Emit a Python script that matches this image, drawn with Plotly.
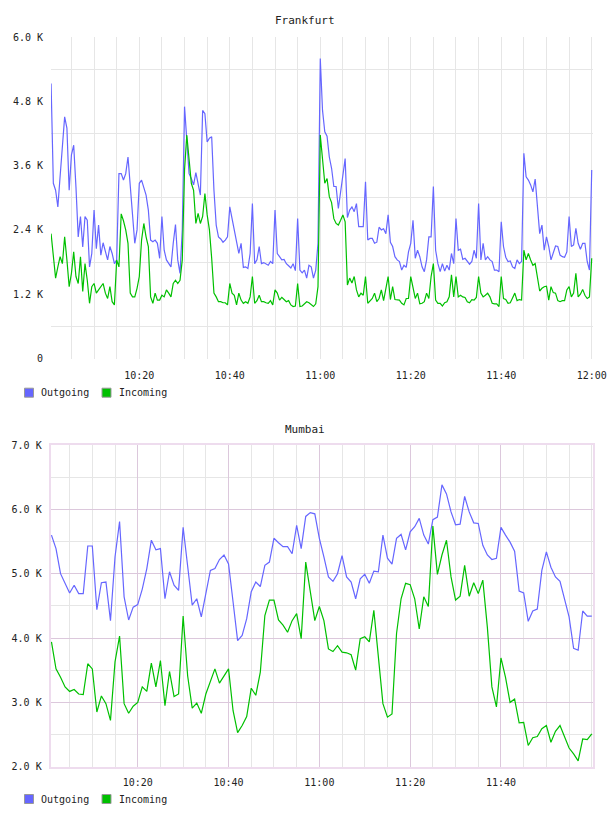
import plotly.graph_objects as go
import pandas as pd

W, H = 608, 816
DAY = "2000-01-01"

series_names = ["Outgoing", "Incoming"]

# ---------------- Frankfurt (values in K, one sample every 30 s) ----------------
frankfurt_times = pd.date_range(f"{DAY} 10:00:30", periods=240, freq="30s")
frankfurt_outgoing = [
    5.13, 3.27, 3.14, 2.83, 3.40, 3.98, 4.51, 4.30, 3.14, 3.80,
    3.98, 3.20, 2.27, 2.65, 2.08, 2.65, 2.58, 1.71, 1.96, 2.77,
    2.05, 2.49, 1.93, 2.16, 2.02, 1.84, 2.09, 1.96, 1.77, 1.84,
    3.45, 3.45, 3.33, 3.45, 3.76, 3.21, 2.58, 2.15, 2.40, 3.27,
    3.33, 3.17, 3.05, 2.77, 2.21, 2.18, 2.21, 2.15, 1.87, 2.65,
    2.02, 1.84, 1.77, 1.71, 2.15, 2.50, 1.84, 1.59, 2.40, 4.70,
    4.08, 3.45, 3.36, 3.24, 3.47, 3.24, 3.05, 4.63, 4.57, 4.04,
    4.11, 4.14, 3.14, 2.49, 2.27, 2.23, 2.17, 2.21, 2.27, 2.83,
    2.61, 2.33, 2.15, 1.96,
    2.15, 1.70, 1.71, 1.68, 1.96, 2.89, 1.77, 1.84, 2.09, 1.77,
    1.79, 1.77, 1.74, 1.81, 1.77, 2.77, 1.96, 1.90, 1.84, 1.85,
    1.77, 1.73, 1.69, 1.77, 1.64, 2.61, 1.65, 1.60, 1.65, 1.50,
    1.74, 1.71, 1.50, 1.65, 2.15, 5.60, 4.63, 4.23, 4.15, 3.76,
    3.55, 3.21, 3.21, 2.80, 3.12, 3.45, 3.73, 2.63, 2.77, 2.83,
    2.74, 2.89, 2.46, 2.46, 2.46, 3.30, 2.21, 2.24, 2.24, 2.15,
    2.17, 2.45, 2.40, 2.42, 2.33, 2.68, 2.17, 2.09, 1.90, 1.84,
    1.81, 1.65, 1.74, 1.70, 1.99, 2.15, 2.58, 1.87, 2.02, 1.90,
    1.71, 1.62, 1.84, 2.27,
    2.27, 3.21, 2.02, 1.77, 1.62, 1.77, 1.63, 1.74, 1.65, 1.96,
    1.77, 2.61, 2.02, 2.04, 1.85, 1.87, 1.81, 1.76, 1.81, 2.02,
    1.87, 2.89, 1.84, 2.15, 1.84, 1.90, 1.84, 1.81, 1.65, 1.65,
    1.62, 2.55, 2.09, 1.89, 1.81, 1.82, 1.71, 1.68, 1.84, 1.77,
    1.81, 3.83, 3.39, 3.33, 3.24, 3.11, 3.35, 2.89, 2.33, 2.49,
    2.02, 2.27, 2.09, 1.84, 1.99, 2.10, 2.09, 1.93, 1.90, 1.89,
    1.99, 2.65, 2.09, 2.12, 2.43, 2.15, 2.04, 2.15, 2.15, 1.81,
    1.65, 3.52,
]
frankfurt_incoming = [
    2.33, 1.84, 1.50, 1.71, 1.90, 1.77, 2.27, 1.84, 1.34, 1.59,
    1.99, 1.53, 1.40, 1.90, 1.25, 1.77, 1.46, 1.03, 1.34, 1.40,
    1.22, 1.28, 1.34, 1.40, 1.22, 1.12, 1.34, 1.06, 1.00, 1.84,
    1.71, 2.70, 2.57, 2.40, 2.15, 1.22, 1.15, 1.15, 1.31, 1.53,
    2.21, 2.52, 2.27, 2.09, 1.15, 1.03, 1.22, 1.09, 1.09, 1.18,
    1.15, 1.28, 1.22, 1.15, 1.40, 1.46, 1.40, 1.46, 1.84, 3.52,
    4.17, 3.70, 3.27, 3.14, 2.52, 2.71, 2.52, 2.65, 3.08, 2.68,
    2.40, 1.87, 1.22, 1.15, 1.06, 1.06, 1.04, 1.04, 1.00, 1.40,
    1.22, 1.18, 1.00, 1.22,
    1.09, 1.03, 1.06, 1.03, 1.15, 1.53, 1.03, 1.08, 1.18, 1.06,
    1.06, 1.04, 1.03, 1.08, 1.00, 1.28, 1.22, 1.09, 1.14, 1.10,
    1.06, 1.08, 1.00, 0.97, 0.98, 1.40, 0.97, 0.98, 1.02, 1.06,
    1.04, 1.00, 0.97, 1.02, 1.34, 4.17, 3.76, 3.27, 3.36, 3.02,
    2.91, 2.61, 2.52, 2.49, 2.58, 2.68, 2.55, 1.37, 1.50, 1.41,
    1.53, 1.28, 1.15, 1.22, 1.18, 1.53, 1.03, 1.08, 1.12, 1.22,
    1.06, 1.12, 1.28, 1.08, 1.28, 1.53, 1.10, 1.34, 1.10, 1.09,
    1.09, 1.03, 1.00, 1.12, 1.12, 1.53, 1.29, 1.12, 1.22, 1.02,
    1.03, 1.06, 1.22, 1.12,
    1.53, 1.77, 1.09, 1.03, 1.03, 0.98, 1.04, 1.06, 1.15, 1.56,
    1.15, 1.53, 1.15, 1.18, 1.15, 1.14, 1.06, 1.04, 1.10, 1.09,
    1.14, 1.53, 1.22, 1.15, 1.18, 1.22, 1.15, 1.03, 1.02, 1.02,
    0.97, 1.53, 1.12, 1.10, 1.03, 1.04, 1.13, 1.22, 1.08, 1.10,
    1.09, 2.02, 1.84, 1.96, 1.84, 1.74, 1.77, 1.53, 1.26, 1.31,
    1.34, 1.35, 1.09, 1.34, 1.23, 1.22, 1.08, 1.06, 1.08, 1.08,
    1.28, 1.34, 1.15, 1.22, 1.59, 1.15, 1.20, 1.29, 1.18, 1.12,
    1.15, 1.87,
]
frankfurt_x_labels = ["10:20", "10:40", "11:00", "11:20", "11:40", "12:00"]
frankfurt_y_ticks = [0, 1.2, 2.4, 3.6, 4.8, 6.0]
frankfurt_y_labels = ["0", "1.2 K", "2.4 K", "3.6 K", "4.8 K", "6.0 K"]
frankfurt_y_grid = [0.6, 1.8, 3.0, 4.2, 5.4]

# ---------------- Mumbai (values in K, one sample per minute) ----------------
mumbai_times = pd.date_range(f"{DAY} 10:01:00", periods=120, freq="60s")
mumbai_outgoing = [
    5.60, 5.39, 5.00, 4.85, 4.70, 4.82, 4.69, 4.69, 5.43, 5.43,
    4.44, 4.86, 4.87, 4.27, 5.26, 5.81, 4.64, 4.28, 4.48, 4.52,
    4.76, 5.08, 5.52, 5.37, 5.39, 4.61, 5.03, 4.82, 4.74, 5.72,
    5.10, 4.51, 4.61, 4.33, 4.69, 5.05, 5.08, 5.22, 5.29, 5.15,
    4.56, 3.96, 4.04, 4.30, 4.72, 4.87, 4.80, 5.13, 5.18, 5.55,
    5.48, 5.42, 5.42, 5.31, 5.75, 5.39, 5.89, 5.95, 5.93, 5.55,
    5.26, 4.95, 4.88, 5.00, 5.28, 4.95, 4.87, 4.61, 4.92, 4.99,
    4.85, 5.04, 5.03, 5.60, 5.24, 5.15, 5.55, 5.61, 5.37, 5.65,
    5.73, 5.86, 5.60, 5.46, 5.84, 5.88, 6.38, 6.24, 5.96, 5.76,
    5.77, 6.20, 5.96, 5.79, 5.78, 5.44, 5.29, 5.22, 5.24, 5.72,
    5.60, 5.49, 5.35, 4.73, 4.70, 4.26, 4.42, 4.45, 5.05, 5.34,
    5.10, 4.95, 4.88, 4.59, 4.33, 3.84, 3.81, 4.42, 4.34, 4.34,
]
mumbai_incoming = [
    3.94, 3.52, 3.39, 3.24, 3.17, 3.20, 3.13, 3.12, 3.60, 3.52,
    2.85, 3.10, 2.98, 2.72, 3.63, 4.03, 2.98, 2.83, 2.94, 3.00,
    3.24, 3.17, 3.61, 3.24, 3.65, 2.95, 3.48, 3.09, 3.13, 4.34,
    3.41, 2.91, 2.99, 2.83, 3.13, 3.31, 3.52, 3.30, 3.42, 3.52,
    2.87, 2.53, 2.64, 2.78, 3.22, 3.11, 3.47, 4.35, 4.59, 4.59,
    4.28, 4.20, 4.09, 4.27, 4.38, 3.99, 5.18, 4.74, 4.27, 4.49,
    4.27, 3.83, 3.79, 3.88, 3.78, 3.77, 3.74, 3.50, 3.99, 4.02,
    3.94, 4.43, 3.76, 2.98, 2.77, 2.82, 4.07, 4.61, 4.85, 4.83,
    4.61, 4.14, 4.64, 4.49, 5.74, 4.99, 5.29, 5.52, 4.95, 4.59,
    4.65, 5.13, 4.65, 4.86, 4.69, 4.90, 4.17, 3.24, 2.93, 3.69,
    3.39, 3.00, 3.05, 2.68, 2.69, 2.33, 2.45, 2.47, 2.59, 2.64,
    2.38, 2.55, 2.64, 2.46, 2.29, 2.20, 2.09, 2.43, 2.42, 2.51,
]
mumbai_x_labels = ["10:20", "10:40", "11:00", "11:20", "11:40"]
mumbai_y_ticks = [2, 3, 4, 5, 6, 7]
mumbai_y_labels = ["2.0 K", "3.0 K", "4.0 K", "5.0 K", "6.0 K", "7.0 K"]

# ---------------- styling ----------------
FONT = "DejaVu Sans Mono"
TXT = "#222222"
OUT_C = "#6666ff"
IN_C = "#00c000"
GRID = "#e6e6e6"
MAJOR = "#dcc8dc"
FRAME = "#eedcee"
CLEAR = "rgba(0,0,0,0)"


def fx(p):
    return p / W


def fy(p):
    return 1 - p / H


def tick_dt(labels):
    return [f"{DAY} {lab}:00" for lab in labels]


tickfont = dict(family=FONT, size=10, color=TXT)

fig = go.Figure()
for name, vals, col in [(series_names[0], frankfurt_outgoing, OUT_C),
                        (series_names[1], frankfurt_incoming, IN_C)]:
    fig.add_trace(go.Scatter(x=frankfurt_times, y=vals, name=name, mode="lines",
                             line=dict(color=col, width=1.2), xaxis="x", yaxis="y",
                             showlegend=False))
for name, vals, col in [(series_names[0], mumbai_outgoing, OUT_C),
                        (series_names[1], mumbai_incoming, IN_C)]:
    fig.add_trace(go.Scatter(x=mumbai_times, y=vals, name=name, mode="lines",
                             line=dict(color=col, width=1.2), xaxis="x2", yaxis="y2",
                             showlegend=False))

fig.update_layout(
    width=W, height=H, autosize=False,
    margin=dict(l=0, r=0, t=0, b=0, autoexpand=False),
    paper_bgcolor="white", plot_bgcolor="white",
    showlegend=False,
    xaxis=dict(
        domain=[fx(51), fx(593)], anchor="y", type="date", automargin=False,
        range=[f"{DAY} 10:00:29", f"{DAY} 12:00:17"],
        tickmode="array", tickvals=tick_dt(frankfurt_x_labels), ticktext=frankfurt_x_labels,
        showgrid=True, gridcolor=GRID, gridwidth=1,
        minor=dict(dtick=300000, tick0=f"{DAY} 10:00:00", showgrid=True,
                   gridcolor=GRID, ticks=""),
        ticks="outside", ticklen=7, tickcolor=CLEAR,
        showline=False, zeroline=False, tickfont=tickfont, fixedrange=True,
    ),
    yaxis=dict(
        domain=[fy(358.5), fy(37)], anchor="x", range=[0, 6.0], automargin=False,
        tickmode="array", tickvals=frankfurt_y_ticks, ticktext=frankfurt_y_labels,
        showgrid=False, zeroline=False, showline=False,
        minor=dict(tickmode="array", tickvals=frankfurt_y_grid, showgrid=True,
                   gridcolor=GRID, ticks=""),
        ticks="outside", ticklen=5, tickcolor=CLEAR,
        tickfont=tickfont, fixedrange=True,
    ),
    xaxis2=dict(
        domain=[fx(50.7), fx(593.3)], anchor="y2", type="date", automargin=False,
        range=[f"{DAY} 10:00:50", f"{DAY} 12:00:20"],
        tickmode="array", tickvals=tick_dt(mumbai_x_labels), ticktext=mumbai_x_labels,
        showgrid=True, gridcolor=MAJOR, gridwidth=1,
        minor=dict(dtick=300000, tick0=f"{DAY} 10:00:00", showgrid=True,
                   gridcolor=GRID, ticks=""),
        ticks="outside", ticklen=5, tickcolor=CLEAR,
        showline=True, mirror=True, linecolor=FRAME, linewidth=2,
        zeroline=False, tickfont=tickfont, fixedrange=True,
    ),
    yaxis2=dict(
        domain=[fy(766.7), fy(445)], anchor="x2", range=[2, 7], automargin=False,
        tickmode="array", tickvals=mumbai_y_ticks, ticktext=mumbai_y_labels,
        showgrid=True, gridcolor=MAJOR, gridwidth=1, zeroline=False,
        minor=dict(dtick=0.5, showgrid=True, gridcolor=GRID, ticks=""),
        showline=True, mirror=True, linecolor=FRAME, linewidth=2,
        ticks="outside", ticklen=5, tickcolor=CLEAR,
        tickfont=tickfont, fixedrange=True,
    ),
)

# titles
for title, ypix in [("Frankfurt", 20), ("Mumbai", 429)]:
    fig.add_annotation(text=title, xref="paper", yref="paper", x=fx(305), y=fy(ypix),
                       xanchor="center", yanchor="middle", showarrow=False,
                       font=dict(family=FONT, size=11, color=TXT))

# legends (one under each chart)
for ycen in [392.7, 799]:
    for name, col, sq_left, txt_left in [(series_names[0], OUT_C, 24.5, 39),
                                         (series_names[1], IN_C, 102, 117)]:
        fig.add_shape(type="rect", xref="paper", yref="paper",
                      x0=fx(sq_left), x1=fx(sq_left + 9),
                      y0=fy(ycen + 4.5), y1=fy(ycen - 4.5),
                      fillcolor=col, line=dict(color="#999999", width=1))
        fig.add_annotation(text=name, xref="paper", yref="paper",
                           x=fx(txt_left), y=fy(ycen), xanchor="left", yanchor="middle",
                           showarrow=False, font=dict(family=FONT, size=10, color=TXT))

fig.write_html("out.html", config={"displayModeBar": False})
